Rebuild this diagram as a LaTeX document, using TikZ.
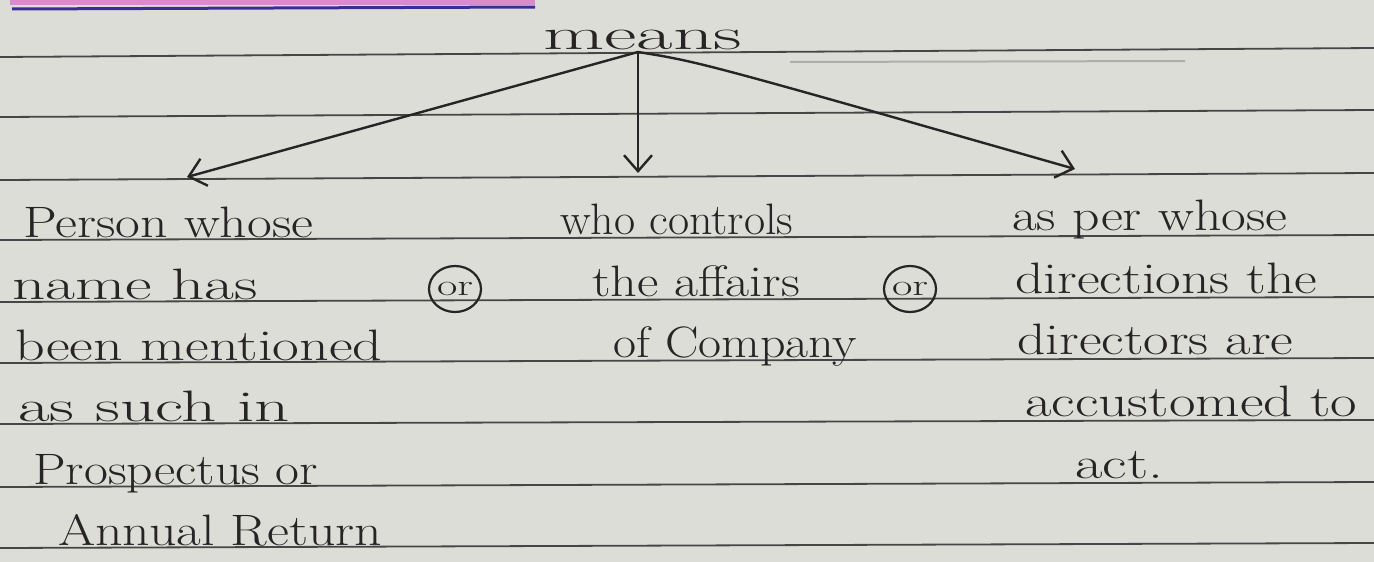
\documentclass[tikz,border=0pt]{standalone}
\usetikzlibrary{arrows.meta,calc}
\definecolor{paper}{RGB}{221,221,215}
\definecolor{ink}{RGB}{38,36,36}
\definecolor{rule}{RGB}{70,70,70}
\definecolor{faint}{RGB}{175,175,170}
\definecolor{hlpink}{RGB}{214,140,205}
\definecolor{hlblue}{RGB}{60,45,150}
\newcommand{\handw}[2]{\resizebox{#1pt}{\height}{#2}}
\tikzset{
  hand/.style={font=\fontsize{44}{50}\selectfont, text=ink, inner sep=0pt, anchor=base west},
  ruled/.style={draw=rule, line width=1.8pt},
  pen/.style={draw=ink, line width=2.4pt, line cap=round, line join=round},
  penarrow/.style={pen, -{Straight Barb[length=16pt,width=28pt,line width=2.4pt]}},
  orbox/.style={ellipse, draw=ink, line width=2.2pt, inner sep=0pt, minimum width=52pt, minimum height=46pt, text=ink, font=\fontsize{30}{32}\selectfont}
}
\usetikzlibrary{shapes.geometric}
\begin{document}
\begin{tikzpicture}[x=1pt,y=-1pt]
\fill[paper] (0,0) rectangle (1374,562);
\useasboundingbox (0,0) rectangle (1374,562);
% top highlight
\fill[hlpink] (10,0) rectangle (535,5);
\draw[hlblue, line width=3pt] (12,9) -- (535,7);
% ruled lines
\foreach \a/\b in {57/48,117/110,180/173,240/235,302/297,363/358,424/420,487/482,548/543}
  \draw[ruled] (0,\a) -- (1374,\b);
\draw[faint, line width=2pt] (790,62) -- (1185,61);
% title
\node[hand, anchor=base west] (m) at (543,49) {\handw{199}{means}};
\coordinate (o) at (638,52);
\coordinate (tl) at (187,177);
\coordinate (tc) at (638,173);
\coordinate (tr) at (1075,169);
\draw[penarrow] (o) -- (tl);
\draw[penarrow] (o) -- (tc);
\draw[penarrow] (o) .. controls (700,62) .. (tr);
% left column
\node[hand] (l1) at (23,237) {\handw{290}{Person whose}};
\node[hand] (l2) at (12,299) {\handw{246}{name has}};
\node[hand] (l3) at (15,360) {\handw{367}{been mentioned}};
\node[hand] (l4) at (18,421) {\handw{272}{as such in}};
\node[hand] (l5) at (33,484) {\handw{285}{Prospectus or}};
\node[hand] (l6) at (58,545) {\handw{324}{Annual Return}};
% or circles
\node[orbox] (or1) at (455,289) {\handw{36}{or}};
\node[orbox] (or2) at (910,289) {\handw{36}{or}};
% middle column
\node[hand] (c1) at (560,234) {\handw{233}{who controls}};
\node[hand] (c2) at (592,296) {\handw{208}{the affairs}};
\node[hand] (c3) at (613,357) {\handw{244}{of Company}};
% right column
\node[hand] (r1) at (1012,230) {\handw{275}{as per whose}};
\node[hand] (r2) at (1015,293) {\handw{302}{directions the}};
\node[hand] (r3) at (1017,354) {\handw{276}{directors are}};
\node[hand] (r4) at (1025,416) {\handw{332}{accustomed to}};
\node[hand] (r5) at (1075,478) {\handw{88}{act.}};
\end{tikzpicture}
\end{document}
